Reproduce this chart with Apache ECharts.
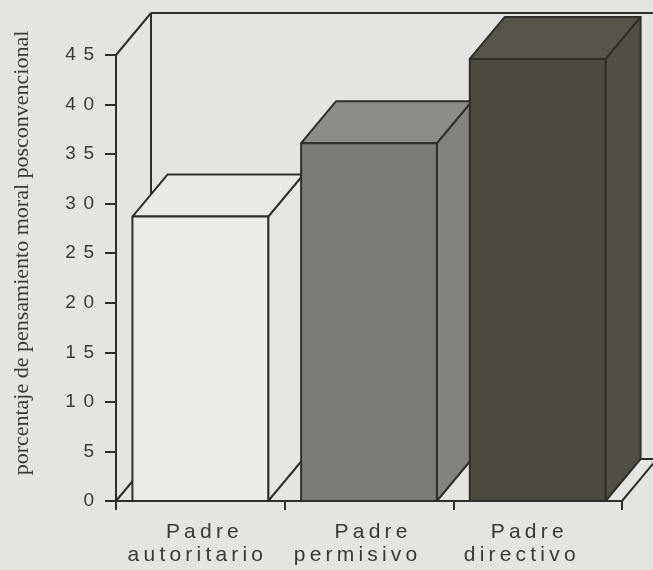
<!DOCTYPE html>
<html>
<head>
<meta charset="utf-8">
<script src="https://cdn.jsdelivr.net/npm/echarts@6/dist/echarts.min.js"></script>
<style>
  html, body { margin: 0; padding: 0; background: #e4e4e2; }
  #chart { width: 653px; height: 570px; }
</style>
</head>
<body>
<div id="chart"></div>
<script>
// datos
const categories = ['Padre\nautoritario', 'Padre\npermisivo', 'Padre\ndirectivo'];
const values = [28.7, 36.1, 44.6];
const yTicks = { min: 0, max: 45, interval: 5 };
const axisTitle = 'porcentaje de pensamiento moral posconvencional';

// estilos de las caras de cada barra
const frontColors = ['#ebebe9', '#7b7b77', '#4b4a43'];
const topColors = ['#e9e9e7', '#8c8c88', '#56554d'];
const sideColors = ['#e6e6e4', '#828280', '#4f4e47'];
const edge = '#2e2e2a';
const textColor = '#383836';
const DX = 35, DY = -42; // profundidad del efecto 3D
const barRatio = 0.805;
// desplazamiento horizontal de cada renglón de la etiqueta (como en el original)
const labelPad = [[[0, 0, 0, 4], [0, 10, 0, 0]], [[0, 0, 0, 4], [0, 27, 0, 0]], [[0, 21, 0, 0], [0, 36, 0, 0]]];

// separa las letras como en el original
function spaced(s, sep) {
    return s.split('').join(sep || '\u2009');
}

const chart = echarts.init(document.getElementById('chart'));

const lineStyle = { stroke: edge, lineWidth: 2, lineJoin: 'round' };

function renderFrame(params, api) {
    const band = api.size([1, 0])[0];
    const left = api.coord([0, 0])[0] - band / 2;
    const right = api.coord([categories.length - 1, 0])[0] + band / 2;
    const base = api.coord([0, yTicks.min])[1];
    const top = api.coord([0, yTicks.max])[1];
    const seg = (a, b) => ({ type: 'line', shape: { x1: a[0], y1: a[1], x2: b[0], y2: b[1] }, style: lineStyle });
    return {
        type: 'group',
        children: [
            seg([left, top], [left + DX, top + DY]),
            seg([left + DX, top + DY], [left + DX, base + DY]),
            seg([left + DX, top + DY], [right + DX + 20, top + DY]),
            seg([left, base], [left + DX, base + DY]),
            seg([left + DX, base + DY], [right + DX, base + DY]),
            seg([right, base], [right + DX, base + DY])
        ]
    };
}

function renderBar(params, api) {
    const i = params.dataIndex;
    const t = api.coord([api.value(0), api.value(1)]);
    const b = api.coord([api.value(0), 0]);
    const w = api.size([1, 0])[0] * barRatio;
    const x0 = t[0] - w / 2, x1 = t[0] + w / 2, y0 = t[1], y1 = b[1];
    return {
        type: 'group',
        children: [
            { type: 'polygon', shape: { points: [[x1, y1], [x1 + DX, y1 + DY], [x1 + DX, y0 + DY], [x1, y0]] },
              style: Object.assign({ fill: sideColors[i] }, lineStyle) },
            { type: 'polygon', shape: { points: [[x0, y0], [x0 + DX, y0 + DY], [x1 + DX, y0 + DY], [x1, y0]] },
              style: Object.assign({ fill: topColors[i] }, lineStyle) },
            { type: 'rect', shape: { x: x0, y: y0, width: w, height: y1 - y0 },
              style: Object.assign({ fill: frontColors[i] }, lineStyle) }
        ]
    };
}

const labelFont = { fontFamily: 'Liberation Sans', fontSize: 21, lineHeight: 23, color: textColor };
const rich = {};
labelPad.forEach((pads, i) => {
    pads.forEach((p, j) => { rich['l' + i + '_' + j] = Object.assign({ padding: p }, labelFont); });
});

const option = {
    backgroundColor: '#e4e4e2',
    animation: false,
    grid: { left: 116, top: 55, width: 506, height: 446, containLabel: false, outerBoundsMode: 'none' },
    xAxis: {
        type: 'category',
        data: categories,
        axisLine: { show: true, lineStyle: { color: edge, width: 2 } },
        axisTick: { show: true, interval: 0, length: 9, lineStyle: { color: edge, width: 2 } },
        axisLabel: Object.assign({
            interval: 0,
            margin: 20,
            rich: rich,
            formatter: (v, idx) => v.split('\n').map((l, j) => '{l' + idx + '_' + j + '|' + spaced(l) + '}').join('\n')
        }, labelFont)
    },
    yAxis: {
        type: 'value',
        min: yTicks.min,
        max: yTicks.max,
        interval: yTicks.interval,
        name: axisTitle,
        nameLocation: 'middle',
        nameRotate: 90,
        nameGap: 83,
        nameTextStyle: {
            fontFamily: 'Liberation Serif',
            fontSize: 22,
            color: textColor,
            padding: [0, 0, 0, 50]
        },
        axisLine: { show: true, lineStyle: { color: edge, width: 2 } },
        axisTick: { show: true, length: 11, lineStyle: { color: edge, width: 2 } },
        splitLine: { show: false },
        axisLabel: {
            margin: 22,
            color: textColor,
            fontFamily: 'Liberation Sans',
            fontSize: 19,
            formatter: v => spaced(String(v), '\u2009\u2009')
        }
    },
    series: [
        {
            name: 'marco',
            type: 'custom',
            z: 1,
            silent: true,
            renderItem: renderFrame,
            data: [[0, 0]]
        },
        {
            name: 'porcentaje',
            type: 'custom',
            z: 2,
            renderItem: renderBar,
            encode: { x: 0, y: 1 },
            data: values.map((v, i) => [i, v])
        }
    ]
};

chart.setOption(option);
</script>
</body>
</html>
